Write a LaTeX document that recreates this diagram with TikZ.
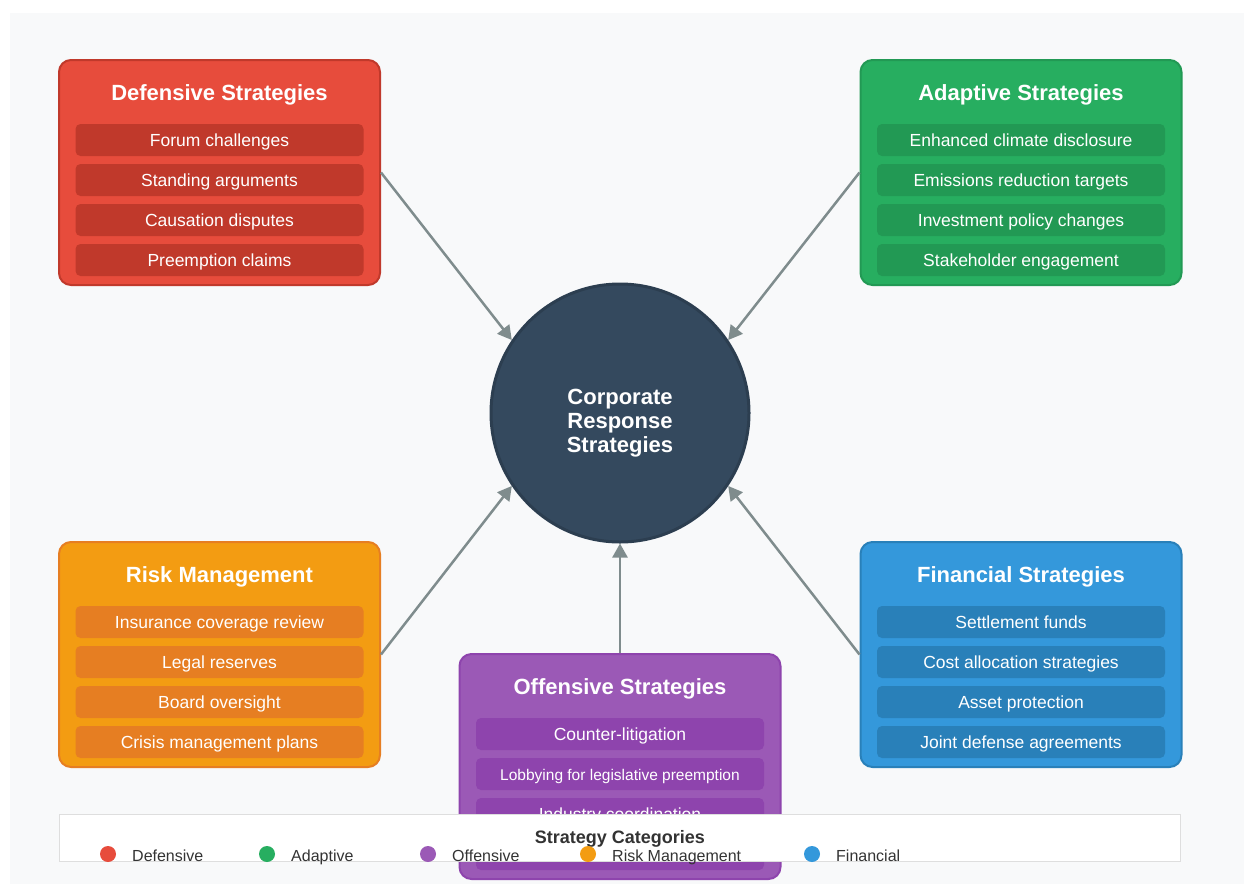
\documentclass[tikz,border=0pt]{standalone}
\usepackage{fontspec}
\setmainfont{Liberation Sans}
\usetikzlibrary{arrows.meta}
\definecolor{bgc}{HTML}{F8F9FA}
\definecolor{lnc}{HTML}{7F8C8D}
\definecolor{ctrf}{HTML}{34495E}
\definecolor{ctrd}{HTML}{2C3E50}
\definecolor{redf}{HTML}{E74C3C}
\definecolor{redd}{HTML}{C0392B}
\definecolor{grnf}{HTML}{27AE60}
\definecolor{grnd}{HTML}{229954}
\definecolor{purf}{HTML}{9B59B6}
\definecolor{purd}{HTML}{8E44AD}
\definecolor{orgf}{HTML}{F39C12}
\definecolor{orgd}{HTML}{E67E22}
\definecolor{bluf}{HTML}{3498DB}
\definecolor{blud}{HTML}{2980B9}
\definecolor{keyt}{HTML}{333333}
\newcommand*{\ttlfont}{\fontsize{22}{26}\selectfont\bfseries}
\newcommand*{\itmfont}{\fontsize{17.5}{20}\selectfont}
\tikzset{>={Triangle[length=14pt,width=15pt]}}
\tikzset{
    catbox/.style={rounded corners=12pt, line width=2pt, minimum width=321pt, minimum height=225pt, inner sep=0pt},
    itembox/.style={rounded corners=5pt, minimum width=288pt, minimum height=32pt, inner sep=0pt,
        text height=12.7pt, text depth=0pt, text=white, font=\itmfont},
    cattitle/.style={anchor=base, inner sep=0pt, text=white, font=\ttlfont},
    link/.style={->, draw=lnc, line width=2.5pt},
    keydot/.style={circle, minimum size=16pt, inner sep=0pt},
    keylabel/.style={anchor=base west, inner sep=0pt, text=keyt, font=\fontsize{16}{18}\selectfont}
}
% card: name, centre, fill, darker tone, title, items
\newcommand*{\catcard}[6]{%
    \node[catbox, fill=#3, draw=#4](#1)at(#2){};
    \node[cattitle](#1-t)at([yshift=-41pt]#1.north){#5};
    \foreach \itm [count=\i] in {#6}
        \node[itembox, fill=#4](#1-\i)at([yshift=-41pt-40pt*\i]#1.north){\itm};
}

\begin{document}
\begin{tikzpicture}[x=1pt, y=-1pt]
    \useasboundingbox(0, 0) rectangle (1244, 884);
    \fill[bgc](10, 13) rectangle (1244, 884);

    \catcard{def}{219.5, 172.5}{redf}{redd}{Defensive Strategies}{Forum challenges, Standing arguments, Causation disputes, Preemption claims}
    \catcard{ada}{1021, 172.5}{grnf}{grnd}{Adaptive Strategies}{Enhanced climate disclosure, Emissions reduction targets, Investment policy changes, Stakeholder engagement}
    \catcard{rsk}{219.5, 654.5}{orgf}{orgd}{Risk Management}{Insurance coverage review, Legal reserves, Board oversight, Crisis management plans}
    \catcard{fin}{1021, 654.5}{bluf}{blud}{Financial Strategies}{Settlement funds, Cost allocation strategies, Asset protection, Joint defense agreements}
    \catcard{off}{620, 766.5}{purf}{purd}{Offensive Strategies}{Counter-litigation, {\fontsize{15.5}{18}\selectfont Lobbying for legislative preemption}, Industry coordination, {}}

    \node[circle, fill=ctrf, draw=ctrd, line width=3pt, minimum size=258pt](ctr)at(620, 413){};
    \node[align=center, text=white, font=\fontsize{22}{24}\selectfont\bfseries](ctr-t)at(620, 423){Corporate\\Response\\Strategies};

    \draw[link](def.east)--(ctr.146);
    \draw[link](ada.west)--(ctr.34);
    \draw[link](rsk.east)--(ctr.214);
    \draw[link](fin.west)--(ctr.326);
    \draw[link](off.north)--(ctr.south);

    % legend strip
    \node[draw=black!13, line width=1.5pt, fill=white, minimum width=1121pt, minimum height=47pt, inner sep=0pt](key)at(620, 838){};
    \node[anchor=base, inner sep=0pt, text=keyt, font=\fontsize{18}{20}\selectfont\bfseries](key-t)at(620, 843){Strategy Categories};
    \foreach \x/\c/\t [count=\i] in {108/redf/Defensive, 267/grnf/Adaptive, 428/purf/Offensive, 588/orgf/Risk Management, 812/bluf/Financial}{
        \node[keydot, fill=\c](dot-\i)at(\x, 854){};
        \node[keylabel](lab-\i)at(\x+24, 861){\t};
    }
\end{tikzpicture}
\end{document}
